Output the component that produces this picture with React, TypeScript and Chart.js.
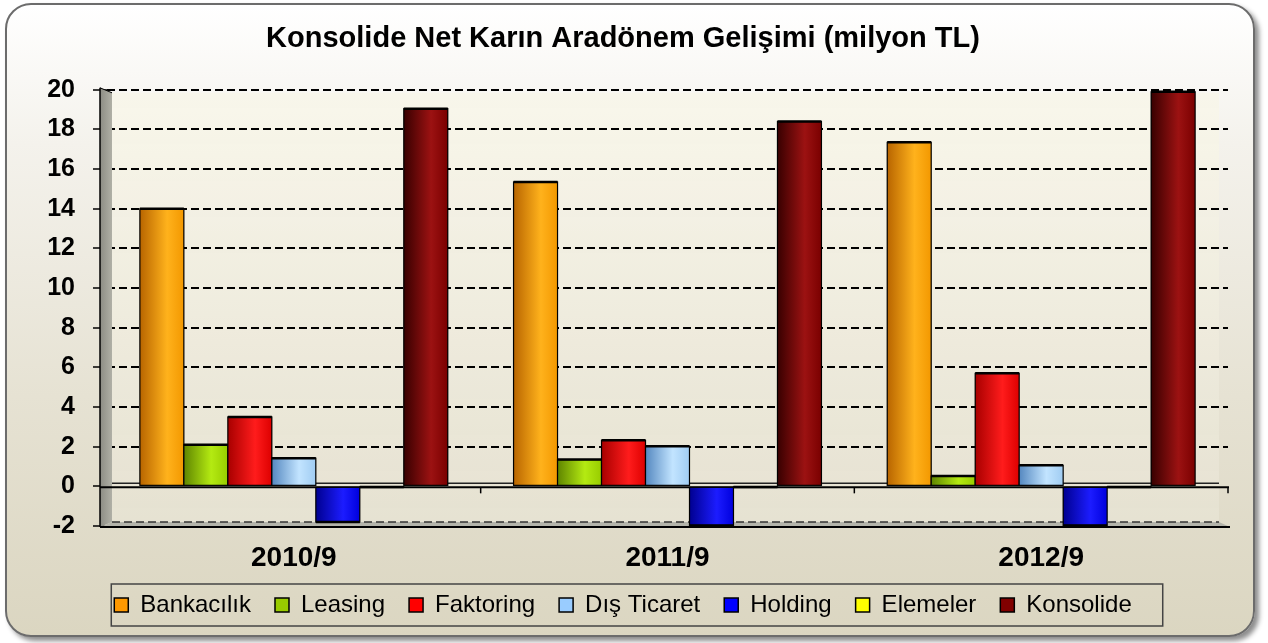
import React, { useEffect, useRef } from "react";
import { Chart, registerables } from "chart.js";

Chart.register(...registerables);

const titleText = "Konsolide Net Karın Aradönem Gelişimi (milyon TL)";
const categories = ["2010/9", "2011/9", "2012/9"];
const seriesNames = ["Bankacılık", "Leasing", "Faktoring", "Dış Ticaret", "Holding", "Elemeler", "Konsolide"];
const bankacilik = [14.0, 15.35, 17.35];
const leasing = [2.1, 1.35, 0.52];
const faktoring = [3.5, 2.32, 5.7];
const disTicaret = [1.42, 2.02, 1.06];
const holding = [-1.8, -1.97, -1.97];
const elemeler = [-0.03, -0.03, -0.03];
const konsolide = [19.05, 18.4, 19.9];
const yMin = -2;
const yMax = 20;
const yStep = 2;

const seriesValues = [bankacilik, leasing, faktoring, disTicaret, holding, elemeler, konsolide];
const seriesColors = ["#FF9900", "#99CC00", "#FF0000", "#99CCFF", "#0000FF", "#FFFF00", "#800000"];
const seriesShades = [
  ["#b86500", "#ffb21c", "#f39800"],
  ["#5f8500", "#b4ea12", "#98cc00"],
  ["#a80000", "#ff1c1c", "#dd0000"],
  ["#5588c0", "#c2e4ff", "#a0ccf2"],
  ["#000090", "#1c1cff", "#0000dd"],
  ["#a8a800", "#ffff50", "#e0e000"],
  ["#380000", "#9c1212", "#7a0000"],
];

const FONT = "'Liberation Sans', Arial, Helvetica, sans-serif";

const decorPlugin = {
  id: "decor",
  beforeDraw(chart: any) {
    const { ctx, chartArea } = chart;
    const { left, right, top, bottom } = chartArea;
    ctx.save();
    const g = ctx.createLinearGradient(0, top, 0, bottom);
    g.addColorStop(0, "rgba(248,246,234,0.95)");
    g.addColorStop(1, "rgba(230,226,210,0.9)");
    ctx.fillStyle = g;
    ctx.fillRect(left + 5, top + 3, right - left - 14, bottom - top - 6);
    ctx.restore();
  },
  beforeDatasetsDraw(chart: any) {
    const { ctx, chartArea, scales } = chart;
    const { left, right, top, bottom } = chartArea;
    const y0 = scales.y.getPixelForValue(0);
    const wl = left - 7;
    const wr = left + 5;
    const rr = right - 9;
    ctx.save();
    // side wall
    const wg = ctx.createLinearGradient(wl, 0, wr, 0);
    wg.addColorStop(0, "#8c8c84");
    wg.addColorStop(1, "#b0b0a6");
    ctx.fillStyle = wg;
    ctx.beginPath();
    ctx.moveTo(wl, top - 2);
    ctx.lineTo(wr, top + 3);
    ctx.lineTo(wr, bottom - 4);
    ctx.lineTo(wl, bottom + 1);
    ctx.closePath();
    ctx.fill();
    ctx.strokeStyle = "#000";
    ctx.lineWidth = 1.5;
    ctx.beginPath();
    ctx.moveTo(wl, top - 2);
    ctx.lineTo(wl, bottom + 1);
    ctx.stroke();
    ctx.lineWidth = 1;
    ctx.beginPath();
    ctx.moveTo(wl, top - 2);
    ctx.lineTo(wr, top + 3);
    ctx.stroke();
    // bottom floor strip at -2
    ctx.fillStyle = "#b4b4aa";
    ctx.beginPath();
    ctx.moveTo(wr, bottom - 4);
    ctx.lineTo(rr, bottom - 4);
    ctx.lineTo(right + 2, bottom + 1);
    ctx.lineTo(wl, bottom + 1);
    ctx.closePath();
    ctx.fill();
    ctx.strokeStyle = "#333";
    ctx.lineWidth = 1.5;
    ctx.setLineDash([8, 4]);
    ctx.beginPath();
    ctx.moveTo(wr, bottom - 4);
    ctx.lineTo(rr, bottom - 4);
    ctx.stroke();
    ctx.setLineDash([]);
    ctx.strokeStyle = "#000";
    ctx.lineWidth = 2;
    ctx.beginPath();
    ctx.moveTo(wl, bottom + 1);
    ctx.lineTo(right + 2, bottom + 1);
    ctx.stroke();
    // zero floor
    ctx.strokeStyle = "#222";
    ctx.lineWidth = 1.5;
    ctx.beginPath();
    ctx.moveTo(wr, y0 - 3);
    ctx.lineTo(rr, y0 - 3);
    ctx.stroke();
    ctx.strokeStyle = "#000";
    ctx.lineWidth = 2;
    ctx.beginPath();
    ctx.moveTo(wl, y0 + 1);
    ctx.lineTo(right + 1, y0 + 1);
    ctx.stroke();
    // category boundary ticks on the zero line
    ctx.lineWidth = 1.5;
    const n = chart.data.labels.length;
    for (let i = 1; i <= n; i++) {
      const xb = scales.x.getPixelForValue(i - 0.5);
      ctx.beginPath();
      ctx.moveTo(xb, y0 + 1);
      ctx.lineTo(xb, y0 + 7);
      ctx.stroke();
    }
    ctx.restore();
  },
  afterDatasetsDraw(chart: any) {
    const { ctx } = chart;
    ctx.save();
    chart.data.datasets.forEach((ds: any, di: number) => {
      const meta = chart.getDatasetMeta(di);
      const sh = seriesShades[di];
      meta.data.forEach((el: any) => {
        const p = el.getProps(["x", "y", "base", "width"], true);
        const l = p.x - p.width / 2;
        const r = p.x + p.width / 2;
        const t = Math.min(p.y, p.base);
        const b = Math.max(p.y, p.base);
        const g = ctx.createLinearGradient(l, 0, r, 0);
        g.addColorStop(0, sh[0]);
        g.addColorStop(0.62, sh[1]);
        g.addColorStop(1, sh[2]);
        ctx.fillStyle = g;
        ctx.fillRect(l, t, p.width, b - t);
        ctx.strokeStyle = "#000";
        ctx.lineWidth = 1.2;
        ctx.strokeRect(l, t, p.width, b - t);
        ctx.lineWidth = 2.5;
        ctx.beginPath();
        const edge = p.y < p.base ? t : b;
        ctx.moveTo(l, edge);
        ctx.lineTo(r, edge);
        ctx.stroke();
      });
    });
    ctx.restore();
  },
  afterDraw(chart: any) {
    const lg = chart.legend;
    if (!lg || !lg.legendHitBoxes || !lg.legendHitBoxes.length) return;
    const hb = lg.legendHitBoxes;
    const first = hb[0];
    const last = hb[hb.length - 1];
    const cy = first.top + first.height / 2;
    const { ctx } = chart;
    ctx.save();
    ctx.strokeStyle = "#444";
    ctx.lineWidth = 1.5;
    ctx.strokeRect(first.left - 3, cy - 21, last.left + last.width - first.left + 34, 42);
    ctx.restore();
  },
};

export default function App() {
  const ref = useRef<HTMLCanvasElement | null>(null);

  useEffect(() => {
    if (!ref.current) return;
    const chart = new Chart(ref.current, {
      type: "bar",
      data: {
        labels: categories,
        datasets: seriesNames.map((name, i) => ({
          label: name,
          data: seriesValues[i],
          backgroundColor: seriesColors[i],
          borderColor: "#000",
          borderWidth: 1.5,
          borderSkipped: false,
          categoryPercentage: 0.824,
          barPercentage: 1,
        })),
      },
      options: {
        responsive: false,
        animation: false,
        layout: { padding: { left: 0, right: 22, top: 0, bottom: 16 } },
        plugins: {
          title: {
            display: true,
            text: titleText,
            color: "#000",
            font: { family: FONT, size: 29, weight: "bold" },
            padding: { top: 22, bottom: 33 },
          },
          legend: {
            display: true,
            position: "bottom",
            labels: {
              boxWidth: 14,
              boxHeight: 14,
              padding: 24,
              color: "#000",
              font: { family: FONT, size: 24 },
            },
          },
          tooltip: { enabled: false },
        },
        scales: {
          x: {
            afterFit: (s: any) => {
              s.height = 43;
            },
            grid: { display: false },
            border: { display: false },
            ticks: {
              color: "#000",
              padding: 9,
              font: { family: FONT, size: 28, weight: "bold", lineHeight: 1.1 },
            },
          },
          y: {
            min: yMin,
            max: yMax,
            afterFit: (s: any) => {
              s.width = 107;
            },
            ticks: {
              stepSize: yStep,
              color: "#000",
              padding: 18,
              font: { family: FONT, size: 25, weight: "bold" },
            },
            grid: {
              color: (c: any) => (c.tick && (c.tick.value === 0 || c.tick.value === yMin) ? "rgba(0,0,0,0)" : "#000"),
              lineWidth: 2,
              tickLength: 14,
              tickColor: "#000",
              tickWidth: 1.5,
            },
            border: {
              display: false,
              dash: [8, 4],
            },
          },
          yRightSpace: {
            position: "right",
            afterFit: (s: any) => {
              s.width = 18;
            },
            grid: { display: false, drawOnChartArea: false },
            border: { display: false },
            ticks: { display: false },
          },
        },
      },
      plugins: [decorPlugin],
    } as any);
    return () => chart.destroy();
  }, []);

  return (
    <div style={{ position: "absolute", left: 0, top: 0, width: 1268, height: 643, overflow: "hidden" }}>
      <div
        style={{
          position: "absolute",
          left: 5,
          top: 3,
          width: 1250,
          height: 634,
          boxSizing: "border-box",
          border: "2px solid #6c6c6c",
          borderRadius: 26,
          background: "linear-gradient(to bottom, #ffffff 0%, #f4f2ec 22%, #e6e2d3 62%, #dbd6c1 100%)",
          boxShadow: "4px 4px 5px rgba(0,0,0,0.45)",
        }}
      />
      <canvas ref={ref} width={1268} height={643} style={{ position: "absolute", left: 0, top: 0 }} />
    </div>
  );
}
